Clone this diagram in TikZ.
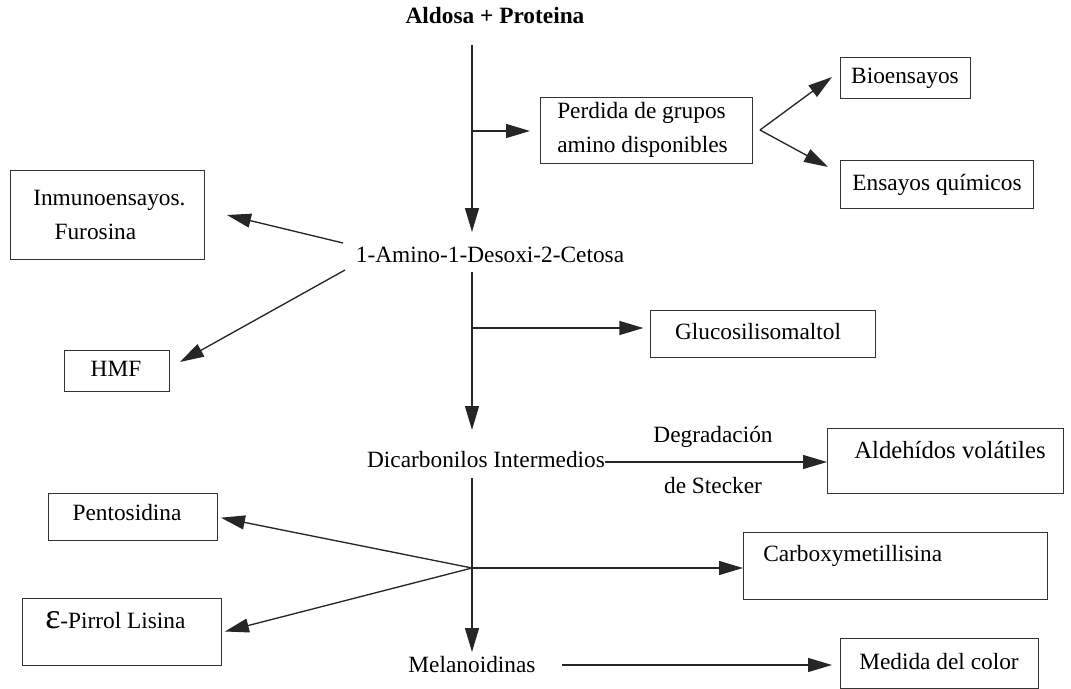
\documentclass[tikz,border=0pt]{standalone}
\usepackage{fontspec}
\setmainfont{Liberation Serif}
\usetikzlibrary{arrows.meta}
\begin{document}
\begin{tikzpicture}[x=0.75pt,y=-0.75pt,
  every node/.style={font=\fontsize{17.5}{20}\selectfont, inner sep=0pt, text height=12pt, text depth=4pt},
  wh/.style 2 args={minimum width=#1*0.75pt, minimum height=#2*0.75pt},
  box/.style={draw=black!80, line width=1pt, anchor=north west},
  link/.style={draw=black!85, line width=1pt, -{Triangle[length=18pt,width=10.5pt]}},
  twoline/.style={anchor=west, align=left, text height=, text depth=, font=\fontsize{17.5}{26}\selectfont}]
\useasboundingbox (0,0) rectangle (1071,689);

% boxes
\node[box, wh={212}{66}] (perd) at (540,97) {};
\node[box, wh={130}{41}] (bio) at (840,57) {};
\node[box, wh={193}{48}] (ensq) at (840,160) {};
\node[box, wh={194}{89}] (inmu) at (10,170) {};
\node[box, wh={105}{41}] (hmf) at (64,350) {};
\node[box, wh={225}{47}] (gluc) at (650,310) {};
\node[box, wh={236}{65}] (alde) at (827,428) {};
\node[box, wh={169}{47}] (pento) at (48,493) {};
\node[box, wh={304}{67}] (carb) at (743,532) {};
\node[box, wh={199}{67}] (pirrol) at (22,598) {};
\node[box, wh={198}{50}] (medida) at (840,638) {};

% texts on the main line
\node[font=\fontsize{17.5}{20}\selectfont\bfseries] (title) at (495,18) {Aldosa + Proteina};
\node (amino) at (490,257) {1-Amino-1-Desoxi-2-Cetosa};
\node (dicarb) at (486,462) {Dicarbonilos Intermedios};
\node (mela) at (472,667) {Melanoidinas};
\node (degr) at (713,437) {Degradación};
\node (steck) at (713,488) {de Stecker};

% texts inside the boxes
\node[twoline] (perdt) at (557,130) {Perdida de grupos\\amino disponibles};
\node (biot) at (905,78) {Bioensayos};
\node (ensqt) at (937,185) {Ensayos químicos};
\node[twoline] (inmut) at (33,215) {Inmunoensayos.\\\hspace*{16pt}Furosina};
\node (hmft) at (116,371) {HMF};
\node (glut) at (758,334) {Glucosilisomaltol};
\node[font=\fontsize{18.5}{20}\selectfont] (aldet) at (950,453) {Aldehídos volátiles};
\node (pentot) at (127,515) {Pentosidina};
\node[anchor=west] (carbt) at (763,556) {Carboxymetillisina};
\node[anchor=west] (pirrolt) at (45,623) {{\fontsize{27}{27}\selectfont ε}-Pirrol Lisina};
\node (medidat) at (939,664) {Medida del color};

% spine and branch points
\coordinate (s0) at (472,45);
\coordinate (s1) at (472,232);
\coordinate (s2) at (472,272);
\coordinate (s3) at (472,430);
\coordinate (s4) at (472,478);
\coordinate (s5) at (472,652);
\coordinate (b1) at (472,131);
\coordinate (b2) at (472,328);
\coordinate (j1) at (472,568);
\coordinate (f1) at (760,130);
\coordinate (e1) at (832,77);
\coordinate (e2) at (828,167);
\coordinate (a1) at (343,243);
\coordinate (i1) at (227,215);
\coordinate (a2) at (345,270);
\coordinate (h1) at (180,362);
\coordinate (m0) at (562,665);

% connectors
\draw[link] (s0) -- (s1);
\draw[link] (s2) -- (s3);
\draw[link] (s4) -- (s5);
\draw[link, shorten >=7.5pt] (b1) -- (b1 -| perd.west);
\draw[link] (f1) -- (e1);
\draw[link] (f1) -- (e2);
\draw[link] (a1) -- (i1);
\draw[link] (a2) -- (h1);
\draw[link, shorten >=5pt] (b2) -- (b2 -| gluc.west);
\draw[link] (dicarb.east) -- (dicarb.east -| alde.west);
\draw[link] (j1) -- (j1 -| carb.west);
\draw[link, shorten >=2pt] (j1) -- (pento.east);
\draw[link, shorten >=2pt] (j1) -- (pirrol.east);
\draw[link, shorten >=6pt] (m0) -- (m0 -| medida.west);
\end{tikzpicture}
\end{document}
